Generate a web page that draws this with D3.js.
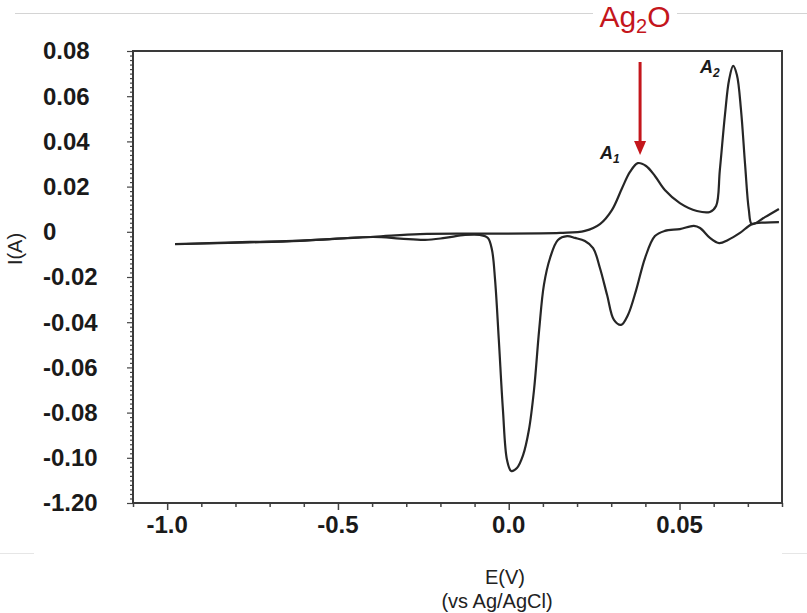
<!DOCTYPE html>
<html>
<head>
<meta charset="utf-8">
<script src="https://cdn.jsdelivr.net/npm/d3@7"></script>
<style>
  html, body { margin: 0; padding: 0; background: #ffffff; }
  svg { display: block; font-family: "Liberation Sans", Arial, sans-serif; }
</style>
</head>
<body>
<svg id="chart" width="807" height="613"></svg>
<script>
// ---------------- data ----------------
const xTickValues = [-1.0, -0.5, 0.0, 0.5];
const xTickLabels = ["-1.0", "-0.5", "0.0", "0.05"];
const yTickValues = [0.08, 0.06, 0.04, 0.02, 0, -0.02, -0.04, -0.06, -0.08, -0.10, -0.12];
const yTickLabels = ["0.08", "0.06", "0.04", "0.02", "0", "-0.02", "-0.04", "-0.06", "-0.08", "-0.10", "-1.20"];

// anodic (forward) sweep
const forwardE = [-0.977, -0.758, -0.611, -0.397, -0.260, -0.084, 0.150, 0.223, 0.267, 0.302, 0.332, 0.355, 0.378, 0.402, 0.428, 0.457, 0.501, 0.551, 0.589, 0.607, 0.618, 0.633, 0.645, 0.657, 0.668, 0.680, 0.692, 0.703, 0.712, 0.750, 0.791];
const forwardI = [-0.0054, -0.0045, -0.0039, -0.0022, -0.0010, -0.0008, -0.0005, 0.0004, 0.0034, 0.0096, 0.0194, 0.0265, 0.0304, 0.0291, 0.0247, 0.0185, 0.0127, 0.0092, 0.0088, 0.0114, 0.0273, 0.0517, 0.0672, 0.0734, 0.0694, 0.0539, 0.0296, 0.0096, 0.0034, 0.0065, 0.0101];

// cathodic (return) sweep
const returnE = [0.791, 0.750, 0.712, 0.677, 0.642, 0.616, 0.589, 0.560, 0.542, 0.501, 0.457, 0.428, 0.399, 0.373, 0.349, 0.329, 0.308, 0.288, 0.267, 0.247, 0.223, 0.194, 0.171, 0.144, 0.121, 0.103, 0.089, 0.074, 0.059, 0.042, 0.024, 0.007, -0.005, -0.017, -0.029, -0.040, -0.049, -0.061, -0.084, -0.128, -0.187, -0.245, -0.318, -0.397, -0.611, -0.758, -0.977];
const returnI = [0.0043, 0.0041, 0.0034, -0.0005, -0.0036, -0.0050, -0.0027, 0.0017, 0.0026, 0.0012, 0.0004, -0.0019, -0.0116, -0.0258, -0.0368, -0.0412, -0.0390, -0.0280, -0.0160, -0.0072, -0.0041, -0.0027, -0.0019, -0.0036, -0.0116, -0.0235, -0.0435, -0.0700, -0.0877, -0.0988, -0.1045, -0.1058, -0.1010, -0.0788, -0.0479, -0.0213, -0.0081, -0.0027, -0.0014, -0.0014, -0.0027, -0.0036, -0.0030, -0.0023, -0.0040, -0.0047, -0.0055];

// ---------------- layout ----------------
const svg = d3.select("#chart");
const plotL = 133, plotR = 782, plotT = 51, plotB = 503;

const x = d3.scaleLinear().domain([-1.1, 0.8]).range([plotL, plotR]);
const y = d3.scaleLinear().domain([-0.12, 0.08]).range([plotB, plotT]);

// faint screenshot frame lines
svg.append("line").attr("x1", 15).attr("x2", 807).attr("y1", 13.5).attr("y2", 13.5)
  .attr("stroke", "#d4d4d4").attr("stroke-width", 1);
svg.append("line").attr("x1", 0).attr("x2", 34).attr("y1", 553.5).attr("y2", 553.5)
  .attr("stroke", "#e6e6e6").attr("stroke-width", 1);
svg.append("line").attr("x1", 782).attr("x2", 807).attr("y1", 553.5).attr("y2", 553.5)
  .attr("stroke", "#e6e6e6").attr("stroke-width", 1);

// minor ticks
const xMinor = d3.range(-11, 9).map(d => d / 10).filter(v => !xTickValues.some(t => Math.abs(t - v) < 1e-9));
const yMinor = d3.range(-60, 41).map(d => d / 500).filter(v => !yTickValues.some(t => Math.abs(t - v) < 1e-9));

const gx = svg.append("g").attr("transform", `translate(0,${plotB})`);
gx.call(d3.axisBottom(x).tickValues(xMinor).tickSize(4).tickFormat(""));
gx.append("g").call(d3.axisBottom(x).tickValues(xTickValues).tickSize(7).tickFormat(""));
gx.selectAll(".domain").remove();
gx.selectAll("line").attr("stroke", "#444").attr("stroke-width", 1.5);

const gy = svg.append("g").attr("transform", `translate(${plotL},0)`);
gy.call(d3.axisLeft(y).tickValues(yMinor).tickSize(3).tickFormat(""));
gy.append("g").call(d3.axisLeft(y).tickValues(yTickValues).tickSize(6).tickFormat(""));
gy.selectAll(".domain").remove();
gy.selectAll("line").attr("stroke", "#444").attr("stroke-width", 1.2);

// frame
svg.append("rect").attr("x", plotL).attr("y", plotT).attr("width", plotR - plotL).attr("height", plotB - plotT)
  .attr("fill", "none").attr("stroke", "#3a3a3a").attr("stroke-width", 2);

// tick labels
svg.append("g").selectAll("text").data(yTickValues).join("text")
  .attr("x", 43).attr("y", d => y(d)).attr("dy", "0.35em")
  .attr("text-anchor", "start").attr("font-size", 24).attr("font-weight", "bold").attr("fill", "#1a1a1a")
  .text((d, i) => yTickLabels[i]);

svg.append("g").selectAll("text").data(xTickValues).join("text")
  .attr("x", d => x(d)).attr("y", 525).attr("dy", "0.35em")
  .attr("text-anchor", "middle").attr("font-size", 24).attr("font-weight", "bold").attr("fill", "#1a1a1a")
  .text((d, i) => xTickLabels[i]);

// axis titles
svg.append("text").attr("x", 505).attr("y", 577).attr("dy", "0.35em").attr("text-anchor", "middle")
  .attr("font-size", 20).attr("fill", "#222").text("E(V)");
svg.append("text").attr("x", 497).attr("y", 601).attr("dy", "0.35em").attr("text-anchor", "middle")
  .attr("font-size", 20).attr("fill", "#222").text("(vs Ag/AgCl)");
svg.append("text").attr("transform", "translate(15,249) rotate(-90)").attr("dy", "0.35em")
  .attr("text-anchor", "middle").attr("font-size", 20).attr("fill", "#222").text("I(A)");

// curves
const line = d3.line().x(d => x(d[0])).y(d => y(d[1])).curve(d3.curveCatmullRom.alpha(0.5));
const fwd = forwardE.map((e, i) => [e, forwardI[i]]);
const ret = returnE.map((e, i) => [e, returnI[i]]);
svg.append("path").attr("d", line(ret)).attr("fill", "none").attr("stroke", "#262626").attr("stroke-width", 2.2);
svg.append("path").attr("d", line(fwd)).attr("fill", "none").attr("stroke", "#262626").attr("stroke-width", 2.2);

// peak labels
function peakLabel(px, py, sub) {
  const t = svg.append("text").attr("x", px).attr("y", py).attr("font-size", 18)
    .attr("font-weight", "bold").attr("font-style", "italic").attr("fill", "#1a1a1a");
  t.append("tspan").text("A");
  t.append("tspan").attr("font-size", 12).attr("dy", 4).text(sub);
}
peakLabel(600, 159, "1");
peakLabel(700, 73, "2");

// Ag2O annotation
const red = "#c4161c";
svg.append("rect").attr("x", 593).attr("y", 2).attr("width", 84).attr("height", 36).attr("fill", "#fff");
const ag = svg.append("text").attr("x", 635).attr("y", 27).attr("text-anchor", "middle")
  .attr("font-size", 30).attr("fill", red);
ag.append("tspan").text("Ag");
ag.append("tspan").attr("font-size", 20).attr("dy", 6).text("2");
ag.append("tspan").attr("dy", -6).text("O");

const ax = x(0.3845);
svg.append("line").attr("x1", ax).attr("x2", ax).attr("y1", 62).attr("y2", 142)
  .attr("stroke", red).attr("stroke-width", 3);
svg.append("path").attr("d", `M${ax - 6},141 L${ax + 6},141 L${ax},155 Z`).attr("fill", red);
</script>
</body>
</html>
